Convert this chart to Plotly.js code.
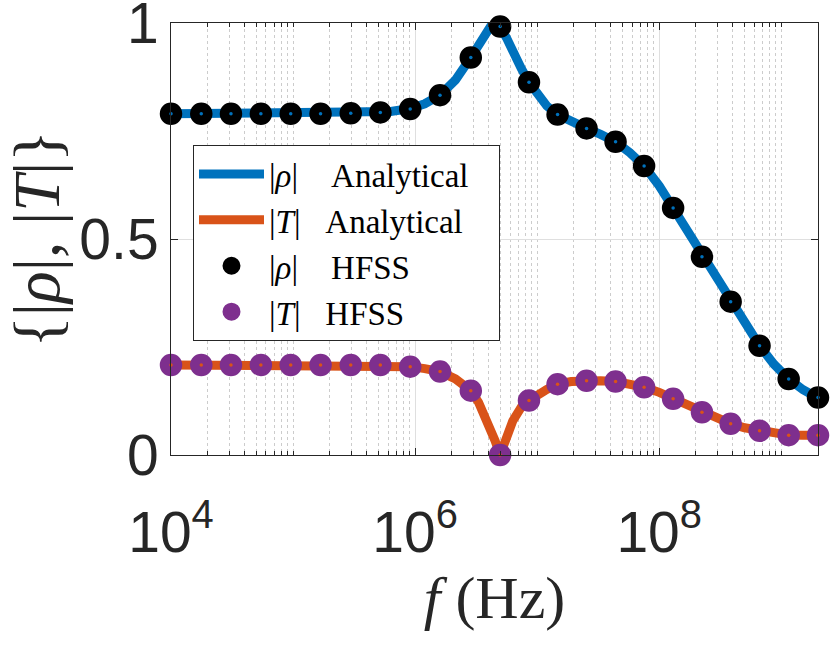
<!DOCTYPE html>
<html>
<head>
<meta charset="utf-8">
<script src="https://cdn.plot.ly/plotly-3.0.1.min.js"></script>
<style>
  html, body { margin: 0; padding: 0; background: #fff; }
  #plot { width: 831px; height: 651px; }
</style>
</head>
<body>
<div id="plot"></div>
<script>
// HFSS sample frequencies (Hz) and magnitudes
var fHfss = [1.0e4, 1.77e4, 3.1e4, 5.45e4, 9.57e4, 1.68e5, 2.97e5, 5.19e5, 9.12e5, 1.6e6,
  2.86e6, 4.97e6, 8.57e6, 1.47e7, 2.54e7, 4.39e7, 7.52e7, 1.3e8, 2.24e8, 3.85e8,
  6.64e8, 1.15e9, 2.0e9];
var rhoHfss = [0.790, 0.790, 0.790, 0.790, 0.790, 0.790, 0.791, 0.793, 0.801, 0.833,
  0.920, 0.992, 0.863, 0.788, 0.756, 0.725, 0.669, 0.572, 0.459, 0.355,
  0.253, 0.176, 0.133];
var tHfss = [0.2085, 0.2085, 0.2085, 0.2085, 0.2085, 0.2085, 0.2085, 0.2085, 0.2045, 0.193,
  0.149, 0.0, 0.126, 0.164, 0.172, 0.170, 0.157, 0.130, 0.099, 0.0725,
  0.056, 0.046, 0.046];

// analytical curves (denser)
var fAna = [1.0e4, 3.16e4, 1.0e5, 3.16e5, 6.31e5, 9.12e5, 1.2e6, 1.6e6, 2.14e6, 2.86e6,
  3.31e6, 3.78e6, 4.17e6, 4.52e6, 4.97e6, 5.62e6, 6.31e6, 7.41e6, 8.57e6, 1.0e7,
  1.2e7, 1.47e7, 1.9e7, 2.54e7, 3.31e7, 4.39e7, 5.75e7, 7.52e7, 1.0e8, 1.3e8,
  1.7e8, 2.24e8, 2.95e8, 3.85e8, 5.01e8, 6.64e8, 8.71e8, 1.15e9, 1.51e9, 2.0e9];
var rhoAna = [0.790, 0.790, 0.790, 0.791, 0.795, 0.802, 0.813, 0.833, 0.868, 0.920,
  0.950, 0.977, 0.993, 1.000, 0.992, 0.965, 0.932, 0.895, 0.863, 0.836,
  0.808, 0.788, 0.771, 0.756, 0.742, 0.725, 0.700, 0.669, 0.623, 0.572,
  0.516, 0.459, 0.405, 0.355, 0.303, 0.253, 0.210, 0.176, 0.151, 0.132];
var tAna = [0.2085, 0.2085, 0.2085, 0.208, 0.2065, 0.2045, 0.200, 0.193, 0.176, 0.149,
  0.122, 0.088, 0.058, 0.033, 0.0, 0.044, 0.079, 0.111, 0.126, 0.138,
  0.152, 0.164, 0.170, 0.172, 0.172, 0.170, 0.165, 0.157, 0.145, 0.130,
  0.114, 0.099, 0.085, 0.0725, 0.063, 0.056, 0.050, 0.046, 0.0455, 0.046];

var xTickVals = [1e4, 1e6, 1e8];
var xTickText = ["10<sup>4</sup>", "10<sup>6</sup>", "10<sup>8</sup>"];
var yTickVals = [0, 0.5, 1];
var yTickText = ["0", "0.5", "1"];

var blue = "#0072BD", orange = "#D95319", purple = "#7E2F8E";
var axisCol = "#262626";

// minor ticks at 2..9 x 10^k plus the odd decades
var minorVals = [];
for (var d = 4; d <= 9; d++) {
  for (var k = 1; k <= 9; k++) {
    var v = k * Math.pow(10, d);
    if (k === 1 && d % 2 === 0) continue;
    if (v > 2e9) break;
    minorVals.push(v);
  }
}

var sp = "\u00a0";
var traces = [
  {
    x: fAna, y: rhoAna, mode: "lines", name: "|<i>ρ</i>|" + sp + sp + sp + sp + "Analytical" + sp + sp + sp,
    line: { color: blue, width: 9 }
  },
  {
    x: fAna, y: tAna, mode: "lines", name: "|<i>T</i>|" + sp + sp + sp + "Analytical" + sp + sp + sp,
    line: { color: orange, width: 9 }
  },
  {
    x: fHfss, y: rhoHfss, mode: "markers", name: "|<i>ρ</i>|" + sp + sp + sp + sp + "HFSS",
    marker: { symbol: "circle", size: 13, color: "#000", line: { color: "#000", width: 9.5 } },
    cliponaxis: false
  },
  {
    x: fHfss, y: tHfss, mode: "markers", name: "|<i>T</i>|" + sp + sp + sp + "HFSS",
    marker: { symbol: "circle", size: 13, color: purple, line: { color: purple, width: 9.5 } },
    cliponaxis: false
  },
  // tiny centre dots (line colour showing through the marker)
  {
    x: fHfss, y: rhoHfss, mode: "markers", showlegend: false,
    marker: { symbol: "circle", size: 3.5, color: blue }, cliponaxis: false
  },
  {
    x: fHfss, y: tHfss, mode: "markers", showlegend: false,
    marker: { symbol: "circle", size: 3.5, color: orange }, cliponaxis: false
  }
];

var layout = {
  width: 831,
  height: 651,
  margin: { l: 171, r: 13, t: 23, b: 196 },
  paper_bgcolor: "#fff",
  plot_bgcolor: "#fff",
  showlegend: true,
  legend: {
    x: 0.034, y: 0.7176, xanchor: "left", yanchor: "top",
    bgcolor: "#fff", bordercolor: axisCol, borderwidth: 1,
    font: { family: "Liberation Serif", size: 33, color: "#000" },
    itemwidth: 65
  },
  xaxis: {
    type: "log",
    range: [4, Math.log10(2e9)],
    tickmode: "array",
    tickvals: xTickVals,
    ticktext: xTickText,
    ticks: "inside",
    ticklen: 7,
    tickcolor: axisCol,
    ticklabelstandoff: 28,
    ticklabeloverflow: "allow",
    showline: true,
    linecolor: axisCol,
    linewidth: 1,
    mirror: "ticks",
    showgrid: true,
    gridcolor: "#dfdfdf",
    zeroline: false,
    tickfont: { family: "Liberation Sans", size: 57, color: axisCol },
    minor: {
      tickmode: "array",
      tickvals: minorVals,
      ticks: "inside",
      ticklen: 4,
      tickcolor: axisCol,
      showgrid: true,
      gridcolor: "#cccccc",
      griddash: "dot",
      gridwidth: 1
    },
    title: {
      text: "<i>f</i> (Hz)",
      font: { family: "Liberation Serif", size: 60, color: axisCol },
      standoff: 12
    }
  },
  yaxis: {
    range: [0, 1],
    tickmode: "array",
    tickvals: yTickVals,
    ticktext: yTickText,
    ticks: "inside",
    ticklen: 7,
    tickcolor: axisCol,
    ticklabeloverflow: "allow",
    showline: true,
    linecolor: axisCol,
    linewidth: 1,
    mirror: "ticks",
    showgrid: true,
    gridcolor: "#dfdfdf",
    zeroline: false,
    tickfont: { family: "Liberation Sans", size: 57, color: axisCol },
    title: {
      text: "{|<i>ρ</i>|, |<i>T</i>|}",
      font: { family: "Liberation Serif", size: 66, color: axisCol },
      standoff: 4
    }
  }
};

Plotly.newPlot("plot", traces, layout, { displayModeBar: false, staticPlot: true });
</script>
</body>
</html>
